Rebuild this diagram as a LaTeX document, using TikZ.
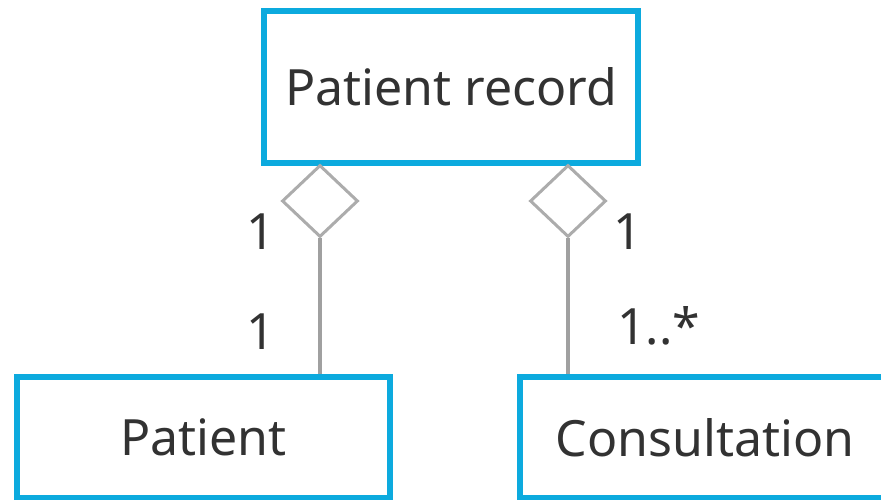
\documentclass[tikz,border=0pt]{standalone}
\usepackage{fontspec}
\setmainfont{Noto Sans}
\usetikzlibrary{shapes.geometric}
\definecolor{boxblue}{RGB}{12,170,222}
\definecolor{txt}{RGB}{50,50,50}
\definecolor{linegray}{RGB}{160,160,160}
\definecolor{diagray}{RGB}{172,172,172}
\begin{document}
\begin{tikzpicture}[x=1pt,y=1pt,
  cls/.style={draw=boxblue, line width=6pt, fill=white, inner sep=0pt, text=txt,
    font=\fontsize{50}{60}\selectfont},
  agg/.style={diamond, draw=diagray, line width=3pt, fill=white, inner sep=0pt,
    minimum width=76pt, minimum height=72pt},
  conn/.style={draw=linegray, line width=3.5pt},
  mult/.style={text=txt, inner sep=0pt, font=\fontsize{50}{60}\selectfont}]
\useasboundingbox (0,0) rectangle (881,500);
\clip (0,0) rectangle (881,500);
\node[cls, minimum width=374pt, minimum height=152pt] (rec) at (451,413) {Patient record};
\node[cls, minimum width=373.5pt, minimum height=120.5pt] (pat) at (203.25,62.25) {Patient};
\node[cls, minimum width=370pt, minimum height=120.5pt] (con) at (705,62.25) {Consultation};
\node[agg] (d1) at (320,299) {};
\node[agg] (d2) at (568,299) {};
\draw[conn] (d1.south) -- (d1.south |- pat.north);
\draw[conn] (d2.south) -- (d2.south |- con.north);
\node[mult, anchor=base] (m1) at (261,250) {1};
\node[mult, anchor=base] (m2) at (261,150) {1};
\node[mult, anchor=base] (m3) at (628,250) {1};
\node[mult, anchor=base west] (m4) at (617,155) {1..*};
\end{tikzpicture}
\end{document}
